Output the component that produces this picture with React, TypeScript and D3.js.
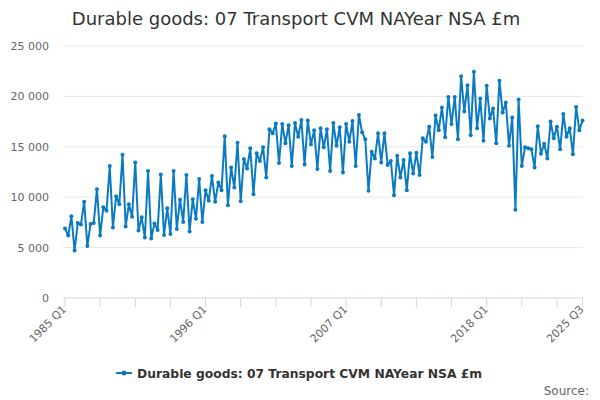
import * as d3 from 'd3';

const title = 'Durable goods: 07 Transport CVM NAYear NSA £m';
const seriesName = 'Durable goods: 07 Transport CVM NAYear NSA £m';

// quarterly, 1985 Q1 .. 2025 Q3
const startYear = 1985;
const values = [
  6900, 6200, 8100, 4700, 7450, 7300, 9550, 5150, 7350, 7450, 10800, 6200,
  9000, 8650, 13100, 7000, 10100, 9300, 14200, 7100, 9300, 8050, 13450, 6700,
  8000, 6000, 12600, 5900, 7400, 6750, 12250, 6250, 8900, 6350, 12600, 6850,
  9750, 7550, 12200, 6600, 9800, 7850, 11800, 7550, 10700, 9650, 12100, 9550,
  11450, 10700, 16050, 9200, 12950, 10950, 15400, 9600, 13800, 12850, 14850, 10300,
  14350, 13600, 14950, 11950, 16750, 16350, 17300, 13400, 17250, 15350, 17150, 13100,
  17350, 16000, 17650, 13250, 17600, 15250, 16650, 12800, 16850, 14950, 16750, 12600,
  17350, 15100, 16950, 12450, 17250, 15500, 17550, 13100, 18150, 16450, 15750, 10650,
  14500, 13850, 16350, 13450, 16350, 13200, 13600, 10200, 14100, 11950, 13700, 10700,
  14350, 12350, 14400, 12200, 15850, 15500, 17000, 14000, 18100, 16650, 18900, 15950,
  19950, 17250, 19950, 15750, 22000, 18500, 21100, 16150, 22450, 16850, 19800, 15600,
  21050, 17800, 18800, 15350, 21550, 18400, 19400, 15100, 17900, 8750, 19700, 13100,
  14950, 14850, 14750, 12950, 17050, 14300, 15300, 13850, 17500, 15850, 17000, 14750,
  18250, 16000, 16850, 14250, 18950, 16650, 17600,
];
const quarters = values.map((_, i) => `${startYear + Math.floor(i / 4)} Q${(i % 4) + 1}`);

const yTicks = [0, 5000, 10000, 15000, 20000, 25000];
const xTickIdx = [0, 11, 22, 33, 44, 55, 66, 77, 88, 99, 110, 121, 132, 143, 154, 162];
const xLabelIdx = [0, 44, 88, 132, 162];

const FONT = '"DejaVu Sans", sans-serif';
const BLUE = '#0a7bc1';

export default function App() {
  const x = d3.scaleLinear().domain([0, values.length - 1]).range([65, 582.5]);
  const y = d3.scaleLinear().domain([0, 25000]).range([298, 46]);
  const line = d3
    .line<number>()
    .x((_, i) => x(i))
    .y((d) => y(d));
  const fmt = (v: number) => d3.format(',')(v).replace(/,/g, ' ');

  return (
    <svg
      width={600}
      height={400}
      style={{ position: 'absolute', left: 0, top: 0, background: '#fff' }}
      fontFamily={FONT}
    >
      <text x={296} y={25} textAnchor="middle" fontSize={18} fill="#333">
        {title}
      </text>

      {yTicks.map((t) => (
        <g key={t}>
          {t > 0 && <line x1={63} x2={583} y1={y(t)} y2={y(t)} stroke="#e6e6e6" />}
          <text x={49} y={y(t) + 4} textAnchor="end" fontSize={11} fill="#666">
            {fmt(t)}
          </text>
        </g>
      ))}

      <line x1={63} x2={583} y1={298} y2={298} stroke="#ccd6eb" />
      {xTickIdx.map((i) => (
        <line key={i} x1={x(i)} x2={x(i)} y1={298} y2={307} stroke="#ccd6eb" />
      ))}
      {xLabelIdx.map((i) => (
        <text
          key={i}
          transform={`translate(${x(i) + 2},${310}) rotate(-45)`}
          textAnchor="end"
          fontSize={11}
          fill="#666"
        >
          {quarters[i]}
        </text>
      ))}

      <path d={line(values) ?? ''} fill="none" stroke={BLUE} strokeWidth={2} strokeLinejoin="round" />
      {values.map((v, i) => (
        <circle key={i} cx={x(i)} cy={y(v)} r={2} fill={BLUE} />
      ))}

      <line x1={116} x2={132} y1={373} y2={373} stroke={BLUE} strokeWidth={2} />
      <circle cx={124} cy={373} r={2.5} fill={BLUE} />
      <text x={137} y={377.5} fontSize={12.3} fontWeight="bold" fill="#333">
        {seriesName}
      </text>

      <text x={589} y={395} textAnchor="end" fontSize={12} fill="#666">
        Source:
      </text>
    </svg>
  );
}
